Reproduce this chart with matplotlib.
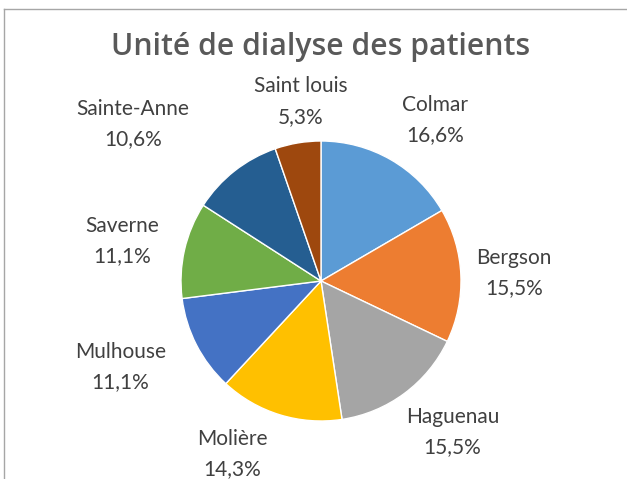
import numpy as np
import matplotlib.pyplot as plt
from matplotlib.lines import Line2D

# dialysis unit shares (%), clockwise from 12 o'clock
units = ['Colmar', 'Bergson', 'Haguenau', 'Molière', 'Mulhouse', 'Saverne', 'Sainte-Anne', 'Saint louis']
shares = [16.6, 15.5, 15.5, 14.3, 11.1, 11.1, 10.6, 5.3]
colors = ['#5B9BD5', '#ED7D31', '#A5A5A5', '#FFC000', '#4472C4', '#70AD47', '#255E91', '#9E480E']

# label placement: distance from centre (in radii) and angle nudge (degrees)
label_dist = [1.41, 1.38, 1.43, 1.39, 1.56, 1.45, 1.75, 1.29]
label_nudge = [-5.5, 0, 4.5, -10, -4, 1.5, 12, -3]

W, H = 627, 479
cx, cy, R = 321, 281, 140  # pie centre / radius in pixels

fig = plt.figure(figsize=(W / 100, H / 100), dpi=100)
ax = fig.add_axes([0, 0, 1, 1])
ax.axis('off')

wedges, _ = ax.pie(shares, colors=colors, startangle=90, counterclock=False,
                   radius=1, wedgeprops=dict(edgecolor='white', linewidth=1))
ax.set_aspect('auto')
ax.set_xlim(-cx / R, (W - cx) / R)
ax.set_ylim(-(H - cy) / R, cy / R)

for w, name, val, d, nudge in zip(wedges, units, shares, label_dist, label_nudge):
    ang = np.radians((w.theta1 + w.theta2) / 2 + nudge)
    x, y = d * np.cos(ang), d * np.sin(ang)
    txt = f"{name}\n{val:.1f}%".replace('.', ',')
    ax.text(x, y, txt, ha='center', va='center', fontsize=15, color='#404040',
            family='Lato', linespacing=1.65)

fig.text(cx / W, 1 - 47 / H, 'Unité de dialyse des patients', ha='center', va='center',
         fontsize=21.7, color='#595959', family='Open Sans', fontweight='semibold')

# chart area border (top and left edges)
fig.add_artist(Line2D([4 / W, 4 / W], [0, 1 - 9 / H], color='#A6A6A6', linewidth=1))
fig.add_artist(Line2D([4 / W, 1], [1 - 9 / H, 1 - 9 / H], color='#A6A6A6', linewidth=1))

fig.savefig('out.png', dpi=100)
